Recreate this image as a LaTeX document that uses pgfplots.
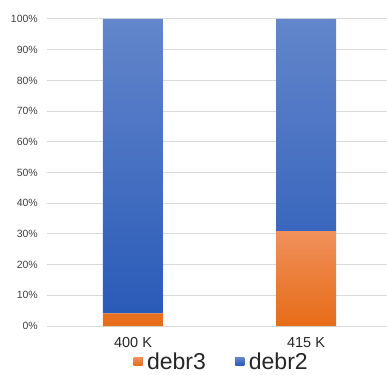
\documentclass[border=0pt]{standalone}
\usepackage{pgfplots}
\pgfplotsset{compat=1.18}
\usepackage{fontspec}
\setmainfont{Liberation Sans}

\definecolor{gridgray}{HTML}{D9D9D9}
\definecolor{ticktext}{HTML}{404040}
\definecolor{cattext}{HTML}{262626}
\definecolor{orgTop}{HTML}{F0905A}
\definecolor{orgBot}{HTML}{E66C18}
\definecolor{orgKey}{HTML}{EE7D2A}
\definecolor{bluTop}{HTML}{6386CB}
\definecolor{bluBot}{HTML}{2A5BB8}
\definecolor{bluKey}{HTML}{3F6AC4}

\begin{document}
\begin{tikzpicture}[x=1pt,y=1pt]
\useasboundingbox (0,0) rectangle (387,374);
\begin{axis}[
  at={(47pt,48pt)}, anchor=south west,
  scale only axis, width=340pt, height=307pt,
  ybar stacked, bar width=60pt,
  xmin=-0.497, xmax=1.468, ymin=0, ymax=100,
  xtick={0,1}, xticklabels={400 K, 415 K},
  ytick={0,10,20,30,40,50,60,70,80,90,100},
  yticklabels={0\%,10\%,20\%,30\%,40\%,50\%,60\%,70\%,80\%,90\%,100\%},
  axis line style={draw=none},
  major tick length=0pt,
  ymajorgrids, grid style={gridgray, line width=1pt},
  yticklabel style={font=\fontsize{10.5}{12}\selectfont, text=ticktext,
    anchor=east, inner sep=0pt, xshift=-9pt},
  xticklabel style={font=\fontsize{14.5}{16}\selectfont, text=cattext,
    anchor=north, inner sep=0pt, yshift=-11pt},
  legend columns=2,
  legend style={at={(0.513,-0.118)}, anchor=center, draw=none, fill=none,
    font=\fontsize{23}{25}\selectfont, text=cattext,
    nodes={inner sep=1.5pt},
    /tikz/every even column/.append style={column sep=28pt}},
]
\addplot[draw=none, top color=orgTop, bottom color=orgBot,
  legend image code/.code={\fill[orgKey] (0pt,-3pt) rectangle (9pt,5pt);
    \path (0pt,0pt) (12pt,0pt);}]
  coordinates {(0,4.1) (1,30.9)};
\addlegendentry{debr3}
\addplot[draw=none, top color=bluTop, bottom color=bluBot,
  legend image code/.code={\fill[bluKey] (0pt,-3pt) rectangle (9pt,5pt);
    \path (0pt,0pt) (12pt,0pt);}]
  coordinates {(0,95.9) (1,69.1)};
\addlegendentry{debr2}
\end{axis}
\end{tikzpicture}
\end{document}
